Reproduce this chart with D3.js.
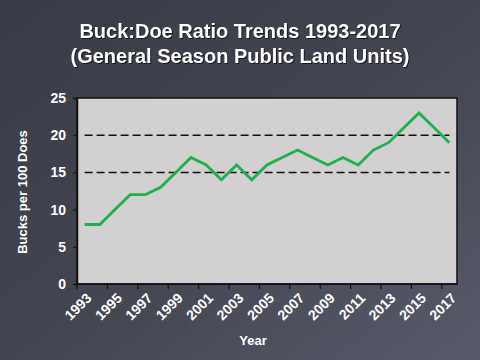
<!DOCTYPE html>
<html>
<head>
<meta charset="utf-8">
<script src="https://cdn.jsdelivr.net/npm/d3@7"></script>
<style>
  body { margin: 0; background: #40434f; }
  text { font-family: "Liberation Sans", Arial, sans-serif; font-weight: bold; fill: #ffffff; }
</style>
</head>
<body>
<div id="chart"></div>
<script>
const years = d3.range(1993, 2018);
const ratios = [8, 8, 10, 12, 12, 13, 15, 17, 16, 14, 16, 14, 16, 17, 18, 17, 16, 17, 16, 18, 19, 21, 23, 21, 19];
const yTicks = [0, 5, 10, 15, 20, 25];
const refLines = [15, 20];
const titleLines = ["Buck:Doe Ratio Trends 1993-2017", "(General Season Public Land Units)"];

const W = 480, H = 360;
const margin = { top: 98, right: 23, bottom: 76, left: 77 };
const w = W - margin.left - margin.right;
const h = H - margin.top - margin.bottom;

const svg = d3.select("#chart").append("svg")
    .attr("width", W)
    .attr("height", H);

// background gradient
const grad = svg.append("defs").append("linearGradient")
    .attr("id", "bg")
    .attr("x1", "0%").attr("y1", "0%")
    .attr("x2", "100%").attr("y2", "100%");
grad.append("stop").attr("offset", "0%").attr("stop-color", "#393c47");
grad.append("stop").attr("offset", "50%").attr("stop-color", "#42454f");
grad.append("stop").attr("offset", "100%").attr("stop-color", "#585a6b");
svg.append("rect").attr("width", W).attr("height", H).attr("fill", "url(#bg)");

// title
svg.append("g").selectAll("text")
    .data(titleLines)
    .enter().append("text")
    .attr("x", 240)
    .attr("y", (d, i) => 38 + i * 25)
    .attr("text-anchor", "middle")
    .style("font-size", "20px")
    .style("filter", "drop-shadow(1px 1px 0px rgba(0,0,0,0.6))")
    .text(d => d);

const g = svg.append("g").attr("transform", `translate(${margin.left},${margin.top})`);

const x = d3.scaleBand().domain(years).range([0, w]).padding(0);
const y = d3.scaleLinear().domain([0, 25]).range([h, 0]);

// plot area
g.append("rect")
    .attr("width", w).attr("height", h)
    .attr("fill", "#d2d0d0")
    .attr("stroke", "#111").attr("stroke-width", 1.5);

// dashed reference lines
g.selectAll(".ref")
    .data(refLines)
    .enter().append("line")
    .attr("class", "ref")
    .attr("x1", x.bandwidth() / 2).attr("x2", w - x.bandwidth() / 2)
    .attr("y1", d => y(d)).attr("y2", d => y(d))
    .attr("stroke", "#111").attr("stroke-width", 1.5)
    .attr("stroke-dasharray", "8,4");

// y axis
const yAxis = g.append("g")
    .call(d3.axisLeft(y).tickValues(yTicks).tickSize(4).tickPadding(7));
yAxis.select(".domain").attr("stroke", "#111").attr("stroke-width", 1.5);
yAxis.selectAll(".tick line").attr("stroke", "#111");
yAxis.selectAll(".tick text")
    .style("font-size", "14px")
    .style("font-family", "Liberation Sans, Arial")
    .style("font-weight", "bold")
    .attr("fill", "#fff");

// x axis ticks at band boundaries every 2 years
const bounds = years.filter((d, i) => i % 2 === 0);
g.append("g").selectAll("line")
    .data(bounds)
    .enter().append("line")
    .attr("x1", d => x(d)).attr("x2", d => x(d))
    .attr("y1", h).attr("y2", h + 5)
    .attr("stroke", "#111").attr("stroke-width", 1.2);
g.append("line")
    .attr("x1", 0).attr("x2", w).attr("y1", h).attr("y2", h)
    .attr("stroke", "#111").attr("stroke-width", 1.5);

// x labels rotated
g.append("g").selectAll("text")
    .data(bounds)
    .enter().append("text")
    .attr("transform", d => `translate(${x(d) + x.bandwidth() / 2 + 1},${h + 8}) rotate(-45)`)
    .attr("text-anchor", "end")
    .attr("dy", "0.7em")
    .style("font-size", "14px")
    .text(d => d);

// line
g.append("path")
    .datum(ratios)
    .attr("fill", "none")
    .attr("stroke", "#1fae50")
    .attr("stroke-width", 2.8)
    .attr("stroke-linejoin", "miter")
    .attr("d", d3.line()
        .x((d, i) => x(years[i]) + x.bandwidth() / 2)
        .y(d => y(d)));

// axis titles
svg.append("text")
    .attr("x", 253).attr("y", 345)
    .attr("text-anchor", "middle")
    .style("font-size", "13px")
    .text("Year");

svg.append("text")
    .attr("transform", "translate(27,192) rotate(-90)")
    .attr("text-anchor", "middle")
    .style("font-size", "13px")
    .text("Bucks per 100 Does");
</script>
</body>
</html>
